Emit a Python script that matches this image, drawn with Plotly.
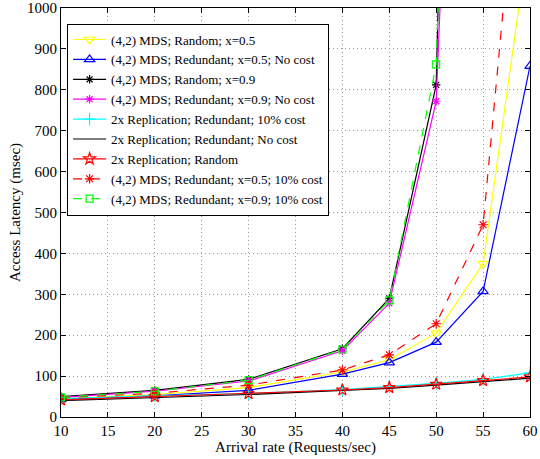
import plotly.graph_objects as go

x = [10, 20, 30, 40, 45, 50, 55, 60]

mds_rand_05 = [45, 55, 72, 110, 140, 205, 375, 1197]
mds_red_05_nocost = [43, 52, 65, 105, 133, 183, 307, 858]
mds_rand_09 = [50, 65, 92, 167, 290, 812, 5500, 20000]
mds_red_09_nocost = [48, 63, 88, 162, 278, 772, 3600, 15000]
rep_red_10cost = [45, 52, 57, 67, 75, 82, 92, 108]
rep_red_nocost = [40, 48, 55, 65, 70, 78, 86, 95]
rep_random = [42, 50, 57, 66, 72, 80, 89, 98]
mds_red_05_10cost = [47, 58, 78, 115, 152, 228, 470, 1700]
mds_red_09_10cost = [48, 63, 90, 165, 285, 862, 4300, 18000]

x_ticks = list(range(10, 61, 5))
y_ticks = list(range(0, 1001, 100))

names = [
    "(4,2) MDS; Random; x=0.5",
    "(4,2) MDS; Redundant; x=0.5; No cost",
    "(4,2) MDS; Random; x=0.9",
    "(4,2) MDS; Redundant; x=0.9; No cost",
    "2x Replication; Redundant; 10% cost",
    "2x Replication; Redundant; No cost",
    "2x Replication; Random",
    "(4,2) MDS; Redundant; x=0.5; 10% cost",
    "(4,2) MDS; Redundant; x=0.9; 10% cost",
]
series = [mds_rand_05, mds_red_05_nocost, mds_rand_09, mds_red_09_nocost,
          rep_red_10cost, rep_red_nocost, rep_random, mds_red_05_10cost, mds_red_09_10cost]
colors = ["#ffff00", "#0000ff", "#000000", "#ff00ff", "#00ffff", "#000000", "#ff0000", "#ff0000", "#00ff00"]
symbols = ["triangle-down-open", "triangle-up-open", "asterisk-open", "asterisk-open",
           "cross-thin-open", None, "star-open", "asterisk-open", "square-open"]
sizes = [9, 9, 7, 7, 9, None, 9, 8, 7]
dashes = ["solid"] * 7 + ["dash", "dash"]

fig = go.Figure()
for n, ys, c, s, sz, d in zip(names, series, colors, symbols, sizes, dashes):
    mode = "lines+markers" if s else "lines"
    marker = dict(symbol=s, size=sz, color=c, line=dict(color=c, width=1.2)) if s else None
    fig.add_trace(go.Scatter(x=x, y=ys, name=n, mode=mode,
                             line=dict(color=c, width=1.2, dash=d),
                             marker=marker))

axis_common = dict(
    showline=True, linecolor="black", linewidth=1.2, mirror="ticks",
    ticks="inside", ticklen=5, tickcolor="black",
    showgrid=True, gridcolor="#999999", griddash="1px,3px", gridwidth=1,
    zeroline=False, automargin=False, ticklabeloverflow="allow",
    tickfont=dict(family="Liberation Serif", size=15, color="black"),
)

fig.update_layout(
    width=540, height=459,
    margin=dict(l=61, r=10, t=8, b=42),
    paper_bgcolor="white", plot_bgcolor="white",
    font=dict(family="Liberation Serif", color="black"),
    xaxis=dict(range=[10, 60], tickmode="array", tickvals=x_ticks,
               title=dict(text="Arrival rate (Requests/sec)", font=dict(size=15), standoff=2),
               **axis_common),
    yaxis=dict(range=[0, 1000], tickmode="array", tickvals=y_ticks,
               title=dict(text="Access Latency (msec)", font=dict(size=15), standoff=2),
               **axis_common),
    legend=dict(x=0.013, y=0.962, xanchor="left", yanchor="top",
                bgcolor="white", bordercolor="black", borderwidth=1,
                font=dict(family="Liberation Serif", size=13, color="black"),
                tracegroupgap=0, itemwidth=33),
    showlegend=True,
)

fig.write_html("out.html", config={"displayModeBar": False},
               post_script="document.body.style.margin='0';document.body.style.overflow='hidden';")
